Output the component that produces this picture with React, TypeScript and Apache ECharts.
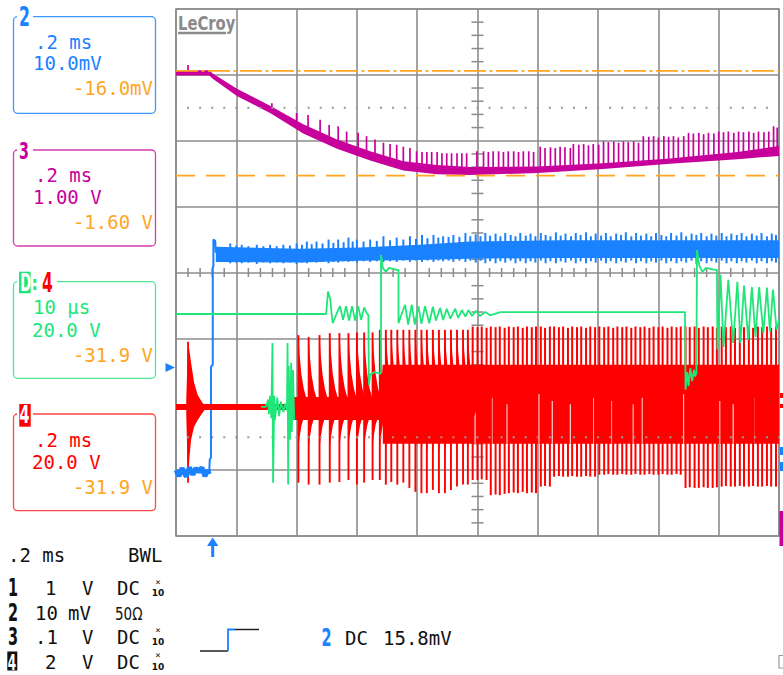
import React, { useEffect, useRef } from 'react';
import * as echarts from 'echarts';

// Screen coordinates of the scope: x = horizontal divisions (0.2 ms/div), y = vertical divisions
const xRange = [0, 10];
const yRange = [-4, 4];

const cursorLevels = [3.06, 1.47];
const dottedLevels = [2.5, -2.5];

// Channel 3 (magenta) band envelopes and spikes [x, top]
const magentaUpper = [[0,3.07],[0.55,3.07],[0.61,3.02],[1.01,2.79],[1.56,2.53],[2.11,2.25],[2.67,2.02],[3.22,1.84],[3.77,1.69],[4.33,1.63],[4.88,1.60],[5.99,1.61],[7.08,1.66],[8.19,1.73],[9.31,1.83],[10,1.92]];
const magentaLower = [[0,2.99],[0.55,2.99],[0.61,2.94],[1.01,2.68],[1.56,2.42],[2.11,2.11],[2.67,1.88],[3.22,1.70],[3.77,1.55],[4.33,1.49],[4.88,1.48],[5.99,1.51],[7.08,1.57],[8.19,1.65],[9.31,1.72],[10,1.77]];
const magentaSpikes = [[0.20,3.15],[1.59,2.57],[2.00,2.42],[2.19,2.39],[2.39,2.32],[2.54,2.24],[2.69,2.22],[2.83,2.14],[3.02,2.12],[3.16,2.07],[3.30,2.02],[3.44,1.97],[3.55,1.95],[3.66,1.94],[3.77,1.91],[3.88,1.89],[3.99,1.84],[4.08,1.83],[4.16,1.83],[4.24,1.83],[4.33,1.83],[4.41,1.81],[4.49,1.81],[4.57,1.81],[4.66,1.81],[4.74,1.81],[4.82,1.81],
[4.99,1.84],[5.10,1.84],[5.18,1.83],[5.26,1.84],[5.35,1.84],[5.43,1.83],[5.51,1.84],[5.60,1.84],[5.68,1.83],[5.76,1.84],[5.85,1.84],[5.93,1.83],[6.04,1.91],[6.12,1.89],[6.21,1.90],[6.29,1.89],[6.37,1.91],[6.45,1.90],[6.54,1.89],[6.59,1.95],[6.68,1.94],[6.76,1.95],[6.84,1.93],[6.92,1.95],[7.01,1.94],[7.09,1.99],[7.17,1.98],[7.26,1.99],[7.34,1.97],[7.42,1.99],[7.50,1.98],[7.59,1.99],[7.67,1.97],[7.75,2.07],[7.84,2.06],[7.92,2.07],[8.00,2.05],[8.09,2.07],[8.17,2.06],[8.25,2.07],[8.33,2.05],[8.42,2.07],[8.50,2.12],[8.58,2.11],[8.67,2.12],[8.75,2.10],[8.83,2.12],[8.92,2.11],[9.00,2.14],[9.08,2.13],[9.16,2.14],[9.25,2.12],[9.33,2.14],[9.41,2.13],[9.50,2.14],[9.58,2.12],[9.66,2.14],[9.75,2.13],[9.83,2.14],[9.91,2.22],[9.97,2.20]];

// Channel 2 (blue)
const bluePre = [[0,-3.00],[0.05,-3.09],[0.10,-2.97],[0.17,-3.10],[0.22,-2.96],[0.28,-3.07],[0.33,-2.97],[0.38,-3.03],[0.43,-2.96],[0.48,-3.09],[0.53,-3.00],[0.55,-3.06]];
const blueRise = [[0.55,-3.06],[0.56,-2.84],[0.58,-2.81],[0.58,-1.43],[0.61,-1.40],[0.61,0.07],[0.62,0.10],[0.62,0.50],[0.65,0.48],[0.66,0.30]];
const blueUpper = [[0.66,0.39],[2.06,0.36],[3.05,0.38],[4.05,0.42],[4.88,0.47],[6.37,0.49],[7.86,0.49],[10,0.49]];
const blueLower = [[0.66,0.16],[2.06,0.15],[3.05,0.18],[4.05,0.19],[4.88,0.21],[6.37,0.22],[7.86,0.22],[10,0.22]];
const blueSpikes = [[0.90,0.44,0.14],[1.00,0.41,0.15],[1.09,0.42,0.14],[1.20,0.40,0.15],[1.34,0.42,0.13],[1.45,0.40,0.15],[1.56,0.42,0.14],[1.67,0.40,0.15],[1.78,0.42,0.14],[1.89,0.41,0.15],[2.00,0.44,0.13],[2.09,0.42,0.15],[2.17,0.47,0.14],[2.25,0.43,0.16],[2.33,0.47,0.15],[2.43,0.44,0.16],[2.53,0.50,0.14],[2.61,0.45,0.16],[2.69,0.50,0.15],[2.78,0.46,0.17],[2.86,0.53,0.16],[2.93,0.47,0.17],[3.00,0.50,0.15],[3.11,0.47,0.17],[3.22,0.50,0.16],[3.33,0.48,0.17],[3.44,0.55,0.16],[3.55,0.49,0.17],[3.66,0.53,0.16],[3.77,0.50,0.18],[3.88,0.55,0.16],[3.98,0.51,0.18],[4.08,0.57,0.16],[4.17,0.52,0.18],[4.27,0.57,0.16],[4.35,0.53,0.18],[4.43,0.55,0.17],[4.52,0.54,0.18],[4.60,0.57,0.16],[4.70,0.54,0.18],[4.80,0.60,0.16],[4.88,0.55,0.18],
[4.97,0.58,0.15],[5.05,0.55,0.18],[5.13,0.60,0.14],[5.21,0.56,0.17],[5.30,0.59,0.14],[5.38,0.55,0.17],[5.46,0.60,0.15],[5.55,0.57,0.18],[5.63,0.55,0.14],[5.71,0.60,0.17],[5.80,0.56,0.14],[5.88,0.59,0.17],[5.96,0.55,0.15],[6.05,0.60,0.18],[6.13,0.57,0.14],[6.21,0.55,0.17],[6.30,0.61,0.14],[6.38,0.56,0.17],[6.46,0.59,0.15],[6.55,0.55,0.18],[6.63,0.60,0.14],[6.71,0.57,0.17],[6.80,0.61,0.14],[6.88,0.55,0.17],[6.96,0.59,0.15],[7.05,0.56,0.18],[7.13,0.60,0.14],[7.21,0.55,0.17],[7.30,0.59,0.14],[7.38,0.57,0.17],[7.46,0.61,0.15],[7.55,0.55,0.18],[7.63,0.60,0.14],[7.71,0.56,0.17],[7.80,0.59,0.14],[7.88,0.55,0.17],[7.96,0.60,0.15],[8.05,0.57,0.18],[8.13,0.55,0.14],[8.21,0.60,0.17],[8.30,0.56,0.14],[8.38,0.61,0.17],[8.46,0.55,0.15],[8.55,0.59,0.18],[8.63,0.57,0.13],[8.71,0.60,0.17],[8.80,0.55,0.14],[8.88,0.59,0.17],[8.96,0.56,0.15],[9.05,0.60,0.18],[9.13,0.55,0.14],[9.21,0.59,0.17],[9.30,0.57,0.14],[9.38,0.60,0.17],[9.46,0.55,0.15],[9.55,0.59,0.18],[9.63,0.56,0.14],[9.71,0.60,0.17],[9.80,0.55,0.14],[9.88,0.59,0.17],[9.95,0.57,0.15]];

// Channel 4 (red)
const redBaseline = -2.04;
const redFlat = [[0,-2.04],[1.94,-2.04]];
const redBurst = [[0.17,-1.93],[0.20,-1.05],[0.22,-1.17],[0.25,-1.37],[0.30,-1.67],[0.36,-1.86],[0.44,-1.98],[0.48,-2.01],[0.48,-2.08],[0.44,-2.13],[0.36,-2.24],[0.30,-2.34],[0.25,-2.54],[0.22,-2.84],[0.20,-3.19],[0.17,-2.16]];
const redBurstSpike = [[0.20,-1.05,-3.19]];
const redBlocks = [[1.94,3.43,-1.89,-2.24],[3.43,10,-1.40,-2.60]];
const redSaw = [[2.03,-0.95,-3.19],[2.20,-0.98,-3.22],[2.38,-0.95,-3.22],[2.55,-0.92,-3.19],[2.71,-0.92,-3.18],[2.86,-0.92,-3.15],[3.00,-0.91,-3.22],[3.12,-0.91,-3.19],[3.26,-0.91,-3.15],[3.38,-0.87,-3.15],[3.48,-0.87,-3.22],[3.57,-0.87,-3.18],[3.67,-0.87,-3.22],[3.77,-0.87,-3.19],[3.87,-0.87,-3.27],[3.97,-0.87,-3.33],[4.07,-0.87,-3.35],[4.16,-0.87,-3.35],[4.26,-0.87,-3.30],[4.36,-0.87,-3.35],[4.46,-0.87,-3.35],[4.56,-0.87,-3.30],[4.66,-0.87,-3.25],[4.76,-0.87,-3.22],[4.84,-0.87,-3.22]];
const redLines = [[4.92,-0.82,-3.15],[5.00,-0.83,-3.15],[5.07,-0.82,-3.14],[5.15,-0.84,-3.15],
[5.22,-0.82,-3.38],[5.30,-0.83,-3.37],[5.37,-0.82,-3.38],[5.45,-0.84,-3.36],
[5.52,-0.82,-3.35],[5.60,-0.83,-3.34],[5.67,-0.82,-3.35],[5.75,-0.84,-3.33],[5.82,-0.82,-3.35],[5.90,-0.83,-3.34],[5.97,-0.82,-3.35],
[6.05,-0.82,-3.25],[6.12,-0.84,-3.24],[6.20,-0.82,-3.25],
[6.27,-0.82,-3.10],[6.35,-0.83,-3.09],[6.42,-0.82,-3.10],[6.50,-0.84,-3.10],[6.57,-0.82,-3.09],[6.65,-0.83,-3.10],[6.72,-0.82,-3.10],[6.80,-0.84,-3.09],[6.87,-0.82,-3.10],[6.95,-0.83,-3.10],
[7.02,-0.82,-3.07],[7.10,-0.83,-3.07],[7.17,-0.82,-3.06],[7.25,-0.84,-3.07],[7.32,-0.82,-3.07],[7.40,-0.83,-3.06],[7.47,-0.82,-3.07],[7.55,-0.84,-3.07],[7.62,-0.82,-3.06],[7.70,-0.83,-3.07],[7.77,-0.82,-3.07],[7.85,-0.84,-3.06],[7.92,-0.82,-3.07],[8.00,-0.83,-3.07],[8.07,-0.82,-3.06],[8.15,-0.84,-3.07],[8.22,-0.82,-3.07],[8.30,-0.83,-3.06],[8.37,-0.82,-3.07],
[8.45,-0.82,-3.27],[8.52,-0.83,-3.26],[8.60,-0.82,-3.27],[8.67,-0.84,-3.27],[8.75,-0.82,-3.26],[8.82,-0.83,-3.27],[8.90,-0.82,-3.27],[8.97,-0.84,-3.26],
[9.05,-0.82,-3.25],[9.12,-0.83,-3.24],[9.20,-0.82,-3.25],[9.27,-0.84,-3.25],[9.35,-0.82,-3.24],[9.42,-0.83,-3.25],[9.50,-0.82,-3.25],[9.57,-0.84,-3.24],[9.65,-0.82,-3.25],[9.72,-0.83,-3.25],[9.80,-0.82,-3.24],[9.87,-0.84,-3.25],[9.95,-0.82,-3.25]];
// white notches visible inside the red block [x, top, bottom]
const redNotches = [[4.96,-1.95,-2.60],[5.24,-1.90,-2.60],[5.49,-2.00,-2.60],[6.02,-1.85,-2.60],[6.24,-1.95,-2.60],[6.54,-2.00,-2.60],[6.93,-1.90,-2.60],[7.23,-1.95,-2.60],[7.58,-2.00,-2.60],[7.73,-1.90,-2.60],[8.42,-1.85,-2.60],[9.02,-1.95,-2.60],[9.24,-2.00,-2.60],[9.58,-1.90,-2.60]];

// Zoom trace D:4 (green)
const greenMain = [[0,-0.63],[2.49,-0.63],[2.52,-0.29],[2.56,-0.41],[2.58,-0.63],[2.60,-0.77],[2.67,-0.61],[2.72,-0.51],[2.77,-0.72],[2.82,-0.51],[2.87,-0.73],[2.92,-0.51],[2.97,-0.73],[3.02,-0.51],[3.07,-0.72],[3.12,-0.53],[3.17,-0.63],[3.19,-0.64],[3.20,-1.71],[3.22,-1.55],[3.30,-1.51],[3.38,-1.54],[3.40,-1.52],[3.40,0.27],[3.43,0.07],[3.48,0.01],[3.53,0.07],[3.66,0.04],[3.69,0.04],[3.69,-0.77],[3.73,-0.66],[3.80,-0.49],[3.85,-0.79],[3.91,-0.49],[3.96,-0.79],[4.02,-0.51],[4.07,-0.78],[4.13,-0.51],[4.20,-0.77],[4.26,-0.52],[4.31,-0.73],[4.38,-0.54],[4.43,-0.72],[4.49,-0.55],[4.55,-0.70],[4.63,-0.55],[4.68,-0.69],[4.74,-0.57],[4.80,-0.67],[4.85,-0.57],[4.91,-0.66],[4.98,-0.58],[5.04,-0.66],[5.13,-0.60],[5.21,-0.65],[5.38,-0.60],[8.41,-0.60],[8.44,-0.60],[8.45,-1.78],[8.48,-1.51],[8.50,-1.72],[8.53,-1.45],[8.56,-1.65],[8.59,-1.48],[8.61,-1.58],[8.63,-1.52],[8.64,0.34],[8.68,0.10],[8.73,0.01],[8.79,0.07],[8.94,0.04],[8.97,0.04],[8.98,-1.17],[9.03,-0.03],[9.08,-1.13],[9.16,-0.11],[9.24,-1.07],[9.31,-0.14],[9.36,-1.07],[9.42,-0.20],[9.49,-1.02],[9.55,-0.22],[9.61,-0.98],[9.67,-0.22],[9.74,-0.92],[9.80,-0.23],[9.85,-0.90],[9.90,-0.26],[9.96,-0.87],[10,-0.72]];
const greenLow = [[1.41,-2.04],[1.49,-2.04],[1.53,-1.93],[1.54,-2.15],[1.56,-1.87],[1.58,-2.21],[1.60,-1.07],[1.61,-3.19],[1.63,-1.87],[1.64,-2.24],[1.68,-1.90],[1.71,-2.18],[1.74,-1.96],[1.78,-2.12],[1.81,-1.99],[1.84,-2.09],[1.85,-1.07],[1.86,-3.22],[1.87,-1.42],[1.89,-2.54],[1.91,-1.37],[1.92,-2.42],[1.94,-1.48],[1.96,-2.24]];

const BLUE = '#1a82ff';
const MAG = '#c8009b';
const RED = '#ff0000';
const GREEN = '#20e67a';
const ORANGE = '#ffa51f';
const GRID = '#8c8c8c';
const MONO = '"DejaVu Sans Mono", monospace';
const SANS = '"DejaVu Sans", sans-serif';

function interp(arr: number[][], x: number) {
  for (let i = 0; i < arr.length - 1; i++) {
    const [x0, y0] = arr[i];
    const [x1, y1] = arr[i + 1];
    if (x >= x0 && x <= x1) return x1 === x0 ? y0 : y0 + ((y1 - y0) * (x - x0)) / (x1 - x0);
  }
  return arr[arr.length - 1][1];
}

function buildGraphic() {
  const g: any[] = [];
  const txt = (x: number, y: number, s: string, fill: string, o: any = {}) =>
    g.push({
      type: 'text', x, y, scaleX: o.sx ?? 1, z: 20,
      style: { text: s, fill, font: `${o.w || 'normal'} ${o.size || 19}px ${o.family || MONO}`, align: o.align || 'left', verticalAlign: 'middle' },
    });
  const rect = (x: number, y: number, w: number, h: number, style: any, r = 0) =>
    g.push({ type: 'rect', z: 15, shape: { x, y, width: w, height: h, r }, style });

  // info boxes
  rect(13.5, 16.7, 142, 96.6, { fill: 'none', stroke: '#3d97ff', lineWidth: 1.3 }, 4);
  rect(13.5, 150, 142, 96, { fill: 'none', stroke: '#d63cae', lineWidth: 1.3 }, 4);
  rect(13.5, 281.7, 142, 96.6, { fill: 'none', stroke: '#4ee895', lineWidth: 1.3 }, 4);
  rect(13.5, 414, 142, 96.7, { fill: 'none', stroke: '#ff4848', lineWidth: 1.3 }, 4);

  // box labels
  rect(17, 5, 16, 22, { fill: '#fff' });
  txt(19, 16.5, '2', BLUE, { w: 'bold', size: 26, sx: 0.6, family: SANS });
  rect(17, 140, 16, 20, { fill: '#fff' });
  txt(19, 151.5, '3', MAG, { w: 'bold', size: 23, sx: 0.62, family: SANS });
  rect(17, 270, 40, 24, { fill: '#fff' });
  rect(19, 271.7, 11.7, 21.6, { fill: GREEN });
  txt(20.3, 282.7, 'D', '#fff', { w: 'bold', size: 24, sx: 0.55, family: SANS });
  txt(31.5, 282.7, ':', GREEN, { w: 'bold', size: 20, sx: 0.8, family: SANS });
  txt(42, 282.5, '4', RED, { w: 'bold', size: 26, sx: 0.6, family: SANS });
  rect(17, 402, 16, 26, { fill: '#fff' });
  rect(19.3, 404, 11.4, 22.7, { fill: RED });
  txt(19.6, 415.5, '4', '#fff', { w: 'bold', size: 24, sx: 0.6, family: SANS });

  // box texts
  txt(35, 41.7, '.2 ms', BLUE);
  txt(33, 63.3, '10.0mV', BLUE);
  txt(153, 88.3, '-16.0mV', ORANGE, { align: 'right' });
  txt(35, 175, '.2 ms', MAG);
  txt(33, 196.7, '1.00 V', MAG);
  txt(153, 221.7, '-1.60 V', ORANGE, { align: 'right' });
  txt(33, 306.7, '10 µs', GREEN);
  txt(32, 330, '20.0 V', GREEN);
  txt(153, 355, '-31.9 V', ORANGE, { align: 'right' });
  txt(35, 440, '.2 ms', RED);
  txt(32, 461.7, '20.0 V', RED);
  txt(153, 486.7, '-31.9 V', ORANGE, { align: 'right' });

  // channel markers
  g.push({ type: 'polygon', z: 15, shape: { points: [[165.5, 363], [175, 367.5], [165.5, 372]] }, style: { fill: BLUE } });
  rect(780, 393, 3, 5, { fill: RED });
  rect(780, 404, 3, 4, { fill: RED });
  rect(780, 447, 3, 8, { fill: BLUE });
  rect(780, 462, 3, 9, { fill: BLUE });
  rect(779.5, 511, 3.5, 35, { fill: MAG });

  // LeCroy logo
  txt(178, 23.5, 'LeCroy', '#8a8a8a', { w: 'bold', size: 20, sx: 0.74, family: SANS });
  g.push({ type: 'line', z: 15, shape: { x1: 178, y1: 33, x2: 226, y2: 33 }, style: { stroke: '#8a8a8a', lineWidth: 2.5 } });

  // trigger arrow
  g.push({ type: 'polygon', z: 15, shape: { points: [[207, 546], [212.7, 537.5], [218.4, 546]] }, style: { fill: BLUE } });
  rect(211.2, 545, 3, 12, { fill: BLUE });

  // bottom status area
  const K = '#111';
  txt(8, 555, '.2 ms', K);
  txt(128, 555, 'BWL', K);
  const rows = [588.3, 613.3, 636.7, 661.7];
  txt(8, rows[0], '1', K, { w: 'bold', size: 24, sx: 0.6, family: SANS });
  txt(8, rows[1], '2', K, { w: 'bold', size: 24, sx: 0.6, family: SANS });
  txt(8, rows[2], '3', K, { w: 'bold', size: 24, sx: 0.6, family: SANS });
  rect(7.3, 651.5, 10, 19, { fill: K });
  txt(7.8, rows[3] + 0.5, '4', '#fff', { w: 'bold', size: 22, sx: 0.55, family: SANS });
  txt(45, rows[0], '1', K);
  txt(35, rows[1], '10', K);
  txt(35, rows[2], '.1', K);
  txt(45, rows[3], '2', K);
  txt(82, rows[0], 'V', K);
  txt(68, rows[1], 'mV', K);
  txt(82, rows[2], 'V', K);
  txt(82, rows[3], 'V', K);
  txt(117, rows[0], 'DC', K);
  txt(115, rows[1], '50Ω', K, { size: 18, sx: 0.75, family: SANS });
  txt(117, rows[2], 'DC', K);
  txt(117, rows[3], 'DC', K);
  [0, 2, 3].forEach((i) => {
    txt(158, rows[i] - 6.5, '×', K, { size: 9, align: 'center' });
    txt(158, rows[i] + 5, '10', K, { size: 9, w: 'bold', align: 'center', family: SANS });
  });

  // step icon
  g.push({ type: 'polyline', z: 15, shape: { points: [[200, 651], [228, 651]] }, style: { stroke: '#222', lineWidth: 1.5, fill: 'none' } });
  g.push({ type: 'polyline', z: 15, shape: { points: [[228, 651], [228, 629.5], [235, 629.5]] }, style: { stroke: BLUE, lineWidth: 1.8, fill: 'none' } });
  g.push({ type: 'polyline', z: 15, shape: { points: [[235, 629.5], [259, 629.5]] }, style: { stroke: '#222', lineWidth: 1.5, fill: 'none' } });
  txt(321.5, 638.3, '2', BLUE, { w: 'bold', size: 24, sx: 0.6, family: SANS });
  txt(345, 638.3, 'DC', K);
  txt(383, 638.3, '15.8mV', K);
  g.push({ type: 'polyline', z: 15, shape: { points: [[783, 655.5], [779, 655.5], [779, 668], [783, 668]] }, style: { stroke: '#999', lineWidth: 1.2, fill: 'none' } });
  return g;
}

export default function App() {
  const ref = useRef<HTMLDivElement>(null);
  useEffect(() => {
    if (!ref.current) return;
    const chart = echarts.init(ref.current, undefined, { renderer: 'svg' });

    const polygonSeries = (upper: number[][], lower: number[][], color: string) => ({
      type: 'custom', silent: true, clip: true, data: [[0, 0]],
      renderItem: (_p: any, api: any) => ({
        type: 'polygon',
        shape: { points: [...upper, ...lower.slice().reverse()].map((p) => api.coord(p)) },
        style: { fill: color },
      }),
    });
    const lineSeries = (data: number[][], color: string, width: number, type: any = 'solid', extra: any = {}) => ({
      type: 'line', data, symbol: 'none', silent: true, animation: false,
      lineStyle: { color, width, type, ...extra },
    });
    const segSeries = (data: number[][], color: string, width: number) => ({
      type: 'custom', silent: true, clip: true, data,
      renderItem: (_p: any, api: any) => {
        const x = api.value(0);
        const a = api.coord([x, api.value(1)]);
        const b = api.coord([x, api.value(2)]);
        return { type: 'line', shape: { x1: a[0], y1: a[1], x2: b[0], y2: b[1] }, style: { stroke: color, lineWidth: width } };
      },
    });

    const option: any = {
      animation: false,
      backgroundColor: '#fff',
      grid: { left: 176, top: 9, width: 603, height: 527, show: true, borderColor: GRID, borderWidth: 1.6, backgroundColor: '#fff' },
      xAxis: {
        type: 'value', min: xRange[0], max: xRange[1], interval: 1,
        axisLine: { show: false }, axisTick: { show: false }, axisLabel: { show: false },
        splitLine: { show: true, lineStyle: { color: GRID, width: 1.6 } },
      },
      yAxis: {
        type: 'value', min: yRange[0], max: yRange[1], interval: 1,
        axisLine: { show: false }, axisTick: { show: false }, axisLabel: { show: false },
        splitLine: { show: true, lineStyle: { color: GRID, width: 1.6 } },
      },
      series: [
        // graticule center ticks
        {
          type: 'custom', silent: true, data: [[0, 0]],
          renderItem: (_p: any, api: any) => {
            const children: any[] = [];
            for (let i = 1; i < 50; i++) {
              if (i % 5 === 0) continue;
              const c = api.coord([i / 5, 0]);
              children.push({ type: 'line', shape: { x1: c[0], y1: c[1] - 4.5, x2: c[0], y2: c[1] + 4.5 }, style: { stroke: GRID, lineWidth: 1.5 } });
            }
            for (let j = -19; j < 20; j++) {
              if (j % 5 === 0) continue;
              const c = api.coord([5, j / 5]);
              children.push({ type: 'line', shape: { x1: c[0] - 6, y1: c[1], x2: c[0] + 6, y2: c[1] }, style: { stroke: GRID, lineWidth: 1.5 } });
            }
            return { type: 'group', children };
          },
        },
        ...dottedLevels.map((lv) => lineSeries([[0, lv], [10, lv]], '#999', 2, [2, 10.06], { dashOffset: 1 })),
        // channel 3
        polygonSeries(magentaUpper, magentaLower, MAG),
        {
          type: 'custom', silent: true, clip: true, data: magentaSpikes,
          renderItem: (_p: any, api: any) => {
            const x = api.value(0);
            const base = (interp(magentaUpper, x) + interp(magentaLower, x)) / 2;
            const a = api.coord([x, api.value(1)]);
            const b = api.coord([x, base]);
            return { type: 'line', shape: { x1: a[0], y1: a[1], x2: b[0], y2: b[1] }, style: { stroke: MAG, lineWidth: 1.7 } };
          },
        },
        // channel 2
        lineSeries(bluePre, BLUE, 5),
        lineSeries(blueRise, BLUE, 2),
        polygonSeries(blueUpper, blueLower, BLUE),
        segSeries(blueSpikes, BLUE, 2),
        // channel 4
        lineSeries(redFlat, RED, 6),
        polygonSeries(redBurst, [], RED),
        segSeries(redBurstSpike, RED, 1.8),
        {
          type: 'custom', silent: true, clip: true, data: redBlocks,
          renderItem: (_p: any, api: any) => {
            const a = api.coord([api.value(0), api.value(2)]);
            const b = api.coord([api.value(1), api.value(3)]);
            return { type: 'rect', shape: { x: a[0], y: a[1], width: b[0] - a[0], height: b[1] - a[1] }, style: { fill: RED } };
          },
        },
        segSeries(redNotches, '#ffd0d0', 1.2),
        {
          type: 'custom', silent: true, clip: true, data: redSaw,
          renderItem: (_p: any, api: any) => {
            const x = api.value(0), t = api.value(1), b = api.value(2);
            const dx = [0, 0.02, 0.05, 0.09, 0.14, 0.2];
            const f = [1, 0.72, 0.45, 0.25, 0.1, 0];
            const up = dx.map((d, i) => api.coord([x + d, redBaseline + (t - redBaseline) * f[i]]));
            const lo = dx.map((d, i) => api.coord([x + d, redBaseline + (b - redBaseline) * f[i] * 0.55])).reverse();
            const p1 = api.coord([x, t]);
            const p2 = api.coord([x, b]);
            return {
              type: 'group',
              children: [
                { type: 'polygon', shape: { points: [...up, ...lo] }, style: { fill: RED } },
                { type: 'line', shape: { x1: p1[0], y1: p1[1], x2: p2[0], y2: p2[1] }, style: { stroke: RED, lineWidth: 1.9 } },
              ],
            };
          },
        },
        segSeries(redLines, RED, 2),
        // zoom trace
        lineSeries(greenLow, GREEN, 1.8),
        lineSeries(greenMain, GREEN, 1.8),
        // cursors
        lineSeries([[0, cursorLevels[0]], [10, cursorLevels[0]]], ORANGE, 1.8, [22, 3.5, 3, 3.5]),
        lineSeries([[0, cursorLevels[1]], [10, cursorLevels[1]]], ORANGE, 1.8, [19, 11]),
      ],
      graphic: buildGraphic(),
    };
    chart.setOption(option);
    return () => chart.dispose();
  }, []);

  return <div ref={ref} style={{ position: 'absolute', left: 0, top: 0, width: 783, height: 675, background: '#fff' }} />;
}
